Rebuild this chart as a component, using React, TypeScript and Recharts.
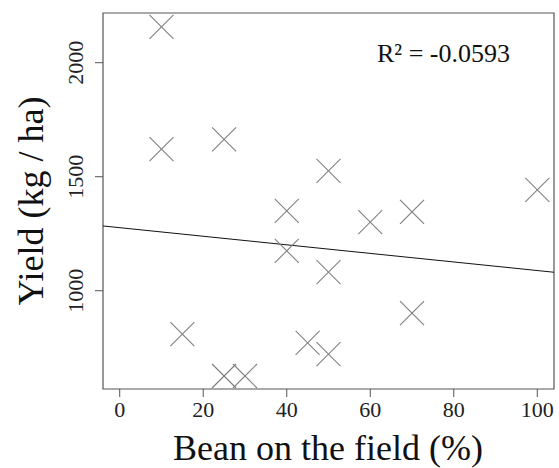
import { ScatterChart, Scatter, XAxis, YAxis, ReferenceLine, ReferenceArea } from "recharts";

const beanPct = [10, 10, 25, 15, 25, 30, 40, 40, 45, 50, 50, 50, 60, 70, 70, 100];
const yieldKg = [2157, 1621, 1664, 810, 626, 626, 1350, 1175, 771, 722, 1082, 1526, 1301, 1346, 902, 1442];
const xTicks = [0, 20, 40, 60, 80, 100];
const yTicks = [1000, 1500, 2000];
const fitX = [-4, 104];
const fitY = [1284, 1081];
const r2Label = "R\u00b2 = -0.0593";

const xDomain = [-4, 104];
const yDomain = [569, 2218];

const points = beanPct.map((b, i) => ({ bean: b, yield: yieldKg[i] }));
const serif = "'Liberation Serif', 'Times New Roman', serif";

const Cross = (props: any) => {
  const { cx, cy } = props;
  const h = 12;
  return (
    <g stroke="#808080" strokeWidth={1.1}>
      <line x1={cx - h} y1={cy - h} x2={cx + h} y2={cy + h} />
      <line x1={cx - h} y1={cy + h} x2={cx + h} y2={cy - h} />
    </g>
  );
};

const XTick = (props: any) => {
  const { x, y, payload } = props;
  return (
    <text x={x} y={y + 18} textAnchor="middle" fontFamily={serif} fontSize={22} fill="#222">
      {payload.value}
    </text>
  );
};

const YTick = (props: any) => {
  const { x, y, payload } = props;
  const bx = x - 10;
  return (
    <text x={bx} y={y} transform={`rotate(-90 ${bx} ${y})`} textAnchor="middle" fontFamily={serif} fontSize={22} fill="#222">
      {payload.value}
    </text>
  );
};

export default function App() {
  return (
    <div style={{ position: "absolute", left: 0, top: 0, width: 559, height: 468, background: "#fff" }}>
      <ScatterChart width={559} height={468} margin={{ top: 13, right: 5, bottom: 39, left: 43 }}>
        <XAxis
          type="number"
          dataKey="bean"
          domain={xDomain}
          ticks={xTicks}
          allowDataOverflow
          height={40}
          tickSize={8}
          tick={<XTick />}
          axisLine={false}
          tickLine={{ stroke: "#555" }}
        />
        <YAxis
          type="number"
          dataKey="yield"
          domain={yDomain}
          ticks={yTicks}
          allowDataOverflow
          width={60}
          tickSize={8}
          tick={<YTick />}
          axisLine={false}
          tickLine={{ stroke: "#555" }}
        />
        <ReferenceArea x1={xDomain[0]} x2={xDomain[1]} y1={yDomain[0]} y2={yDomain[1]} fill="none" stroke="#555" strokeWidth={1.2} />
        <ReferenceLine
          segment={[
            { x: fitX[0], y: fitY[0] },
            { x: fitX[1], y: fitY[1] },
          ]}
          stroke="#111"
          strokeWidth={1}
        />
        <Scatter data={points} shape={<Cross />} isAnimationActive={false} />
        <text x={377} y={62} fontFamily={serif} fontSize={26} fill="#111">
          {r2Label}
        </text>
        <text x={328} y={460} textAnchor="middle" fontFamily={serif} fontSize={36} fill="#111">
          Bean on the field (%)
        </text>
        <text x={43} y={201} transform="rotate(-90 43 201)" textAnchor="middle" fontFamily={serif} fontSize={36} fill="#111">
          Yield (kg / ha)
        </text>
      </ScatterChart>
    </div>
  );
}
